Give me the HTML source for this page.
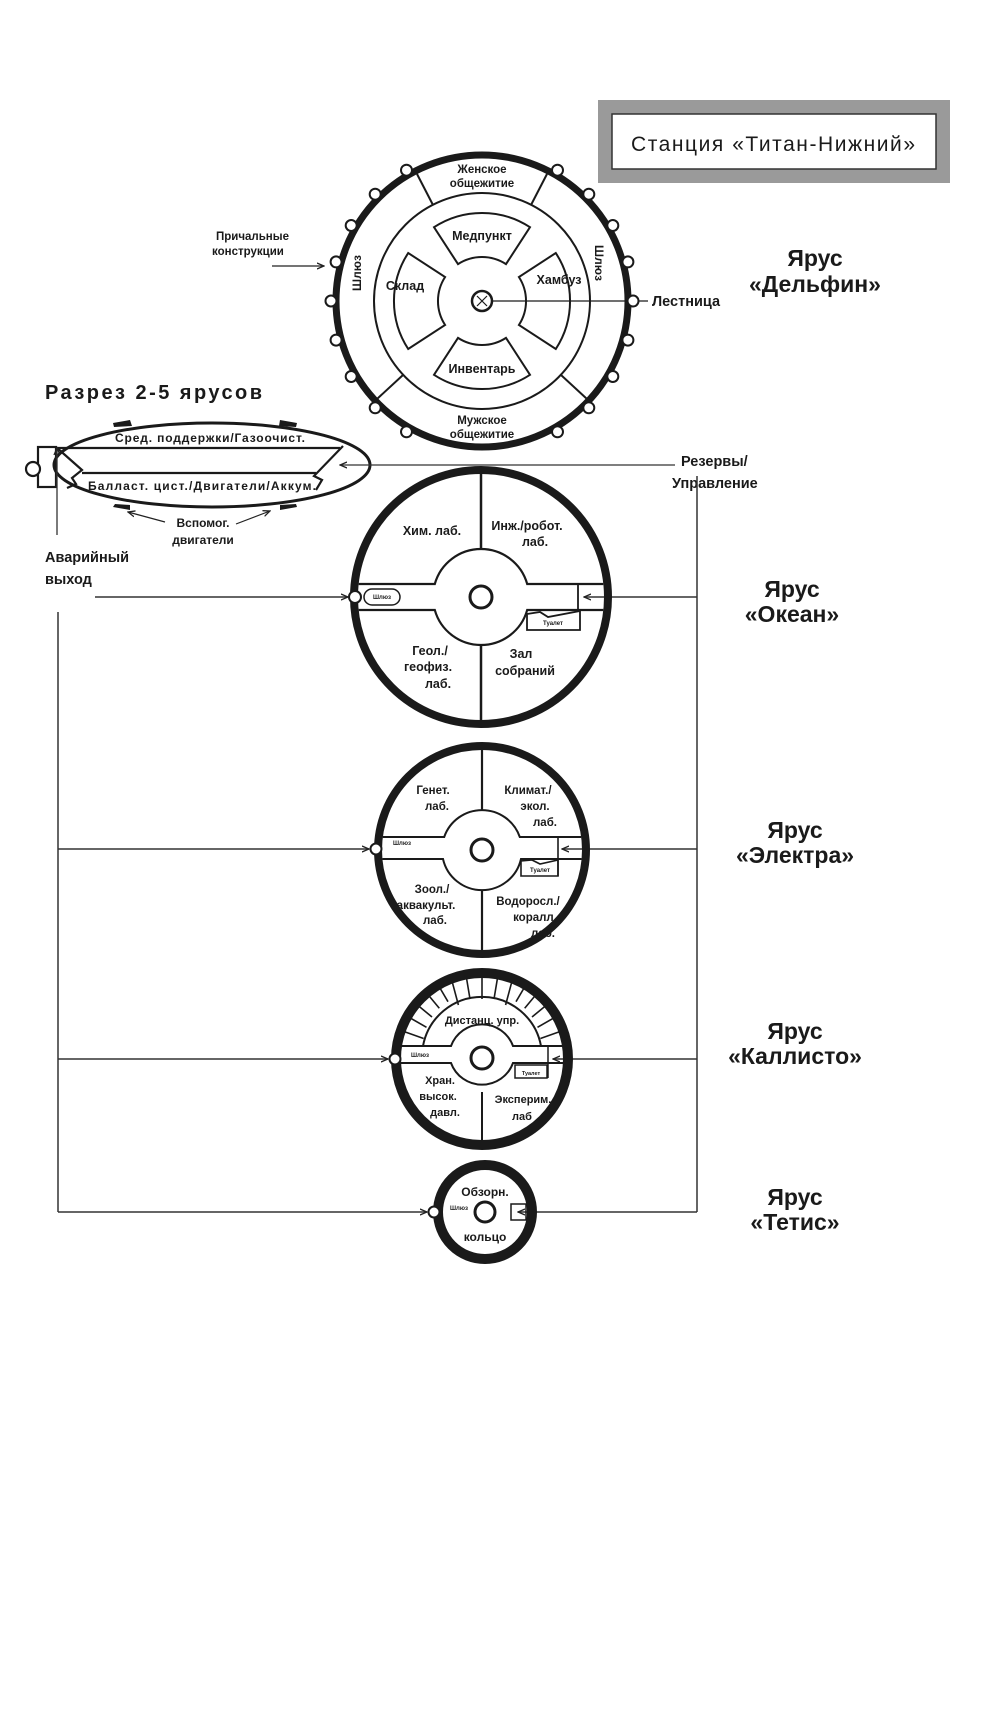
<!DOCTYPE html>
<html><head><meta charset="utf-8"><style>
html,body{margin:0;padding:0;background:#fff}
svg{display:block}
text{font-family:"Liberation Sans",sans-serif;fill:#1a1a1a}
.b{font-weight:bold}
</style></head><body>
<svg width="1000" height="1713" viewBox="0 0 1000 1713" xmlns="http://www.w3.org/2000/svg">
<defs>
<marker id="ar" markerWidth="8" markerHeight="8" refX="7" refY="4" orient="auto" markerUnits="userSpaceOnUse"><path d="M0,1 L7,4 L0,7" fill="none" stroke="#222" stroke-width="1.3"/></marker>
</defs>
<rect width="1000" height="1713" fill="#fff"/>

<!-- Title -->
<rect x="605" y="107" width="338" height="69" fill="none" stroke="#9a9a9a" stroke-width="14"/>
<rect x="612" y="114" width="324" height="55" fill="#fff" stroke="#333" stroke-width="1.5"/>
<text x="631" y="151" font-size="21" textLength="284">Станция «Титан-Нижний»</text>

<!-- Delfin -->
<g stroke="#1a1a1a" fill="none">
<circle cx="482" cy="301" r="146" stroke-width="7"/>
<circle cx="482" cy="301" r="108" stroke-width="2"/>
<line x1="433" y1="205" x2="417" y2="174" stroke-width="2"/>
<line x1="531" y1="205" x2="547" y2="174" stroke-width="2"/>
<line x1="403" y1="375" x2="377" y2="399" stroke-width="2"/>
<line x1="561" y1="375" x2="587" y2="399" stroke-width="2"/>
<path d="M434,227.2 A88 88 0 0 1 530,227.2 L506,264.1 A44 44 0 0 0 458,264.1 Z" stroke-width="2"/>
<path d="M434,374.8 A88 88 0 0 0 530,374.8 L506,337.9 A44 44 0 0 1 458,337.9 Z" stroke-width="2"/>
<path d="M408.2,253 A88 88 0 0 0 408.2,349 L445.1,325 A44 44 0 0 1 445.1,277 Z" stroke-width="2"/>
<path d="M555.8,253 A88 88 0 0 1 555.8,349 L518.9,325 A44 44 0 0 0 518.9,277 Z" stroke-width="2"/>
<circle cx="482" cy="301" r="10" stroke-width="2.5"/>
<path d="M477,296 L487,306 M487,296 L477,306" stroke-width="1.2"/>
<line x1="492" y1="301" x2="648" y2="301" stroke-width="1.3"/>
<g stroke-width="2" fill="#fff">
<circle cx="633" cy="301" r="5.5"/><circle cx="627.9" cy="340.1" r="5.5"/><circle cx="612.8" cy="376.5" r="5.5"/><circle cx="588.8" cy="407.8" r="5.5"/><circle cx="557.5" cy="431.8" r="5.5"/>
<circle cx="627.9" cy="261.9" r="5.5"/><circle cx="612.8" cy="225.5" r="5.5"/><circle cx="588.8" cy="194.2" r="5.5"/><circle cx="557.5" cy="170.2" r="5.5"/>
<circle cx="331" cy="301" r="5.5"/><circle cx="336.1" cy="340.1" r="5.5"/><circle cx="351.2" cy="376.5" r="5.5"/><circle cx="375.2" cy="407.8" r="5.5"/><circle cx="406.5" cy="431.8" r="5.5"/>
<circle cx="336.1" cy="261.9" r="5.5"/><circle cx="351.2" cy="225.5" r="5.5"/><circle cx="375.2" cy="194.2" r="5.5"/><circle cx="406.5" cy="170.2" r="5.5"/>
</g>
</g>
<g font-size="11.5" class="b" text-anchor="middle">
<text x="482" y="173" class="b">Женское</text><text x="482" y="187" class="b">общежитие</text>
<text x="482" y="424" class="b">Мужское</text><text x="482" y="438" class="b">общежитие</text>
<text x="482" y="240" font-size="12.5" class="b">Медпункт</text>
<text x="405" y="290" font-size="12.5">Склад</text>
<text x="559" y="284" font-size="12.5">Хамбуз</text>
<text x="482" y="373" font-size="12.5" class="b">Инвентарь</text>
<text transform="translate(361,273) rotate(-90)" font-size="12">Шлюз</text>
<text transform="translate(595,263) rotate(90)" font-size="12">Шлюз</text>
</g>
<text x="652" y="306" font-size="14.5" class="b">Лестница</text>
<text x="216" y="240" font-size="11.5" class="b">Причальные</text>
<text x="212" y="255" font-size="11.5" class="b">конструкции</text>
<line x1="272" y1="266" x2="324" y2="266" stroke="#222" stroke-width="1.3" marker-end="url(#ar)"/>

<!-- Tier labels -->
<g font-size="23" class="b" text-anchor="middle">
<text x="815" y="266">Ярус</text><text x="815" y="292">«Дельфин»</text>
<text x="792" y="597">Ярус</text><text x="792" y="622">«Океан»</text>
<text x="795" y="838">Ярус</text><text x="795" y="863">«Электра»</text>
<text x="795" y="1039">Ярус</text><text x="795" y="1064">«Каллисто»</text>
<text x="795" y="1205">Ярус</text><text x="795" y="1230">«Тетис»</text>
</g>

<!-- Cross-section ellipse -->
<text x="45" y="399" font-size="20" class="b" textLength="217">Разрез 2-5 ярусов</text>
<g stroke="#1a1a1a" fill="none" stroke-width="2.2">
<ellipse cx="212" cy="465" rx="158" ry="42" stroke-width="3"/>
<line x1="58" y1="448" x2="340" y2="448"/>
<line x1="82" y1="473" x2="316" y2="473"/>
<path d="M56,447 L82,470 L72,478 L76,484 L67,488" />
<path d="M343,446 L314,476 L322,480 L316,490"/>
<rect x="38" y="447" width="18" height="40"/>
<circle cx="33" cy="469" r="7" fill="#fff"/>
</g>
<g fill="#1a1a1a">
<path d="M113,423 L130,420 L132,426 L114,427Z"/><path d="M280,420 L297,423 L296,427 L279,426Z"/>
<path d="M113,507 L130,510 L130,505 L115,504Z"/><path d="M280,510 L297,507 L296,504 L280,505Z"/>
</g>
<text x="210" y="442" font-size="12" class="b" text-anchor="middle" textLength="190">Сред. поддержки/Газоочист.</text>
<text x="202" y="490" font-size="12" class="b" text-anchor="middle" textLength="228">Балласт. цист./Двигатели/Аккум.</text>
<text x="203" y="527" font-size="12" class="b" text-anchor="middle">Вспомог.</text>
<text x="203" y="544" font-size="12" class="b" text-anchor="middle">двигатели</text>
<line x1="165" y1="522" x2="128" y2="512" stroke="#222" stroke-width="1.2" marker-end="url(#ar)"/>
<line x1="236" y1="524" x2="270" y2="511" stroke="#222" stroke-width="1.2" marker-end="url(#ar)"/>
<line x1="57" y1="535" x2="57" y2="448" stroke="#333" stroke-width="1.3" marker-end="url(#ar)"/>
<text x="45" y="562" font-size="14.5" class="b">Аварийный</text>
<text x="45" y="584" font-size="14.5" class="b">выход</text>
<line x1="675" y1="465" x2="340" y2="465" stroke="#333" stroke-width="1.3" marker-end="url(#ar)"/>
<text x="681" y="466" font-size="14.5" class="b">Резервы/</text>
<text x="672" y="488" font-size="14.5" class="b">Управление</text>

<!-- connector lines -->
<g stroke="#333" stroke-width="1.5" fill="none">
<line x1="58" y1="612" x2="58" y2="1212"/>
<line x1="697" y1="476" x2="697" y2="1212"/>
<line x1="95" y1="597" x2="348" y2="597" marker-end="url(#ar)"/>
<line x1="58" y1="849" x2="369" y2="849" marker-end="url(#ar)"/>
<line x1="58" y1="1059" x2="388" y2="1059" marker-end="url(#ar)"/>
<line x1="58" y1="1212" x2="427" y2="1212" marker-end="url(#ar)"/>
<line x1="697" y1="597" x2="584" y2="597" marker-end="url(#ar)"/>
<line x1="697" y1="849" x2="562" y2="849" marker-end="url(#ar)"/>
<line x1="697" y1="1059" x2="553" y2="1059" marker-end="url(#ar)"/>
<line x1="697" y1="1212" x2="518" y2="1212" marker-end="url(#ar)"/>
</g>

<!-- Okean -->
<g stroke="#1a1a1a" fill="none">
<circle cx="481" cy="597" r="127" stroke-width="8"/>
<path d="M358.7,584 L434.8,584 A48 48 0 0 1 527.2,584 L603.3,584" stroke-width="2.2"/>
<path d="M358.7,610 L434.8,610 A48 48 0 0 0 527.2,610 L603.3,610" stroke-width="2.2"/>
<line x1="481" y1="472" x2="481" y2="549" stroke-width="2.5"/>
<line x1="481" y1="645" x2="481" y2="722" stroke-width="2.5"/>
<circle cx="481" cy="597" r="11" stroke-width="3"/>
<rect x="364" y="589" width="36" height="16" rx="8" stroke-width="1.5"/>
<path d="M527,630 L527,614 L540,612 L548,617 L580,611 L580,630 Z" stroke-width="1.8"/>
<line x1="578" y1="584" x2="578" y2="610" stroke-width="1.8"/>
<circle cx="355" cy="597" r="6" stroke-width="2" fill="#fff"/>
</g>
<text x="382" y="599" font-size="6" text-anchor="middle" class="b">Шлюз</text>
<text x="553" y="625" font-size="6" text-anchor="middle" class="b">Туалет</text>
<g font-size="12.5" class="b" text-anchor="middle">
<text x="432" y="535">Хим. лаб.</text>
<text x="527" y="530">Инж./робот.</text><text x="535" y="546">лаб.</text>
<text x="430" y="655">Геол./</text><text x="428" y="671">геофиз.</text><text x="438" y="688">лаб.</text>
<text x="521" y="658">Зал</text><text x="525" y="675">собраний</text>
</g>

<!-- Elektra -->
<g stroke="#1a1a1a" fill="none">
<circle cx="482" cy="850" r="104" stroke-width="8"/>
<path d="M382.8,837 L444.2,837 A40 40 0 0 1 519.8,837 L581.2,837" stroke-width="2"/>
<path d="M382.4,859 L443,859 A40 40 0 0 0 521,859 L581.6,859" stroke-width="2"/>
<line x1="482" y1="747" x2="482" y2="810" stroke-width="2.2"/>
<line x1="482" y1="890" x2="482" y2="953" stroke-width="2.2"/>
<circle cx="482" cy="850" r="11" stroke-width="3"/>
<path d="M521,876 L521,861 L532,860 L540,864 L558,860 L558,876 Z" stroke-width="1.6"/>
<line x1="558" y1="837" x2="558" y2="876" stroke-width="1.6"/>
<circle cx="376" cy="849" r="5.5" stroke-width="2" fill="#fff"/>
</g>
<text x="402" y="845" font-size="6" text-anchor="middle" class="b">Шлюз</text>
<text x="540" y="872" font-size="6" text-anchor="middle" class="b">Туалет</text>
<g font-size="11.5" class="b" text-anchor="middle">
<text x="433" y="794">Генет.</text><text x="437" y="810">лаб.</text>
<text x="528" y="794">Климат./</text><text x="535" y="810">экол.</text><text x="545" y="826">лаб.</text>
<text x="432" y="893">Зоол./</text><text x="426" y="909">аквакульт.</text><text x="435" y="924">лаб.</text>
<text x="528" y="905">Водоросл./</text><text x="535" y="921">коралл.</text><text x="543" y="937">лаб.</text>
</g>

<!-- Kallisto -->
<g stroke="#1a1a1a" fill="none">
<circle cx="482" cy="1059" r="86" stroke-width="10"/>
<path d="M400,1046 L451,1046 A33 33 0 0 1 513,1046 L564,1046" stroke-width="2"/>
<path d="M400,1063 L451,1063 A33 33 0 0 0 513,1063 L564,1063" stroke-width="2"/>
<path d="M423,1046 A60 60 0 0 1 541,1046" stroke-width="2"/>
<g stroke-width="1.6">
<line x1="423.6" y1="1038.5" x2="403.2" y2="1031.2"/>
<line x1="426.5" y1="1027.3" x2="407.7" y2="1016.5"/>
<line x1="432.0" y1="1017.0" x2="415.0" y2="1003.0"/>
<line x1="439.3" y1="1008.3" x2="425.0" y2="991.0"/>
<line x1="448.0" y1="1001.7" x2="437.3" y2="983.5"/>
<line x1="458.4" y1="1005.0" x2="451.6" y2="979.6"/>
<line x1="470" y1="999" x2="466.6" y2="978.6"/>
<line x1="482" y1="999" x2="482" y2="977"/>
<line x1="494" y1="999" x2="497.4" y2="978.6"/>
<line x1="505.6" y1="1005.0" x2="512.4" y2="979.6"/>
<line x1="516.0" y1="1001.7" x2="526.7" y2="983.5"/>
<line x1="524.7" y1="1008.3" x2="539.0" y2="991.0"/>
<line x1="532.0" y1="1017.0" x2="549.0" y2="1003.0"/>
<line x1="537.5" y1="1027.3" x2="556.3" y2="1016.5"/>
<line x1="540.4" y1="1038.5" x2="560.8" y2="1031.2"/>
</g>
<line x1="482" y1="1092" x2="482" y2="1141" stroke-width="2"/>
<circle cx="482" cy="1058" r="11" stroke-width="3"/>
<rect x="515" y="1065" width="32" height="13" stroke-width="1.5"/>
<line x1="548" y1="1046" x2="548" y2="1078" stroke-width="1.5"/>
<circle cx="395" cy="1059" r="5.5" stroke-width="2" fill="#fff"/>
</g>
<text x="420" y="1057" font-size="6" text-anchor="middle" class="b">Шлюз</text>
<text x="531" y="1075" font-size="5.5" text-anchor="middle" class="b">Туалет</text>
<g font-size="11" class="b" text-anchor="middle">
<text x="482" y="1024">Дистанц. упр.</text>
<text x="440" y="1084">Хран.</text><text x="438" y="1100">высок.</text><text x="445" y="1116">давл.</text>
<text x="523" y="1103">Эксперим.</text><text x="522" y="1120">лаб</text>
</g>

<!-- Tetis -->
<g stroke="#1a1a1a" fill="none">
<circle cx="485" cy="1212" r="47" stroke-width="10"/>
<circle cx="485" cy="1212" r="10" stroke-width="3"/>
<rect x="511" y="1204" width="15" height="16" stroke-width="1.5"/>
<circle cx="434" cy="1212" r="5.5" stroke-width="2" fill="#fff"/>
</g>
<text x="459" y="1210" font-size="6" text-anchor="middle" class="b">Шлюз</text>
<text x="485" y="1196" font-size="12" class="b" text-anchor="middle">Обзорн.</text>
<text x="485" y="1241" font-size="12" class="b" text-anchor="middle">кольцо</text>
</svg>
</body></html>
